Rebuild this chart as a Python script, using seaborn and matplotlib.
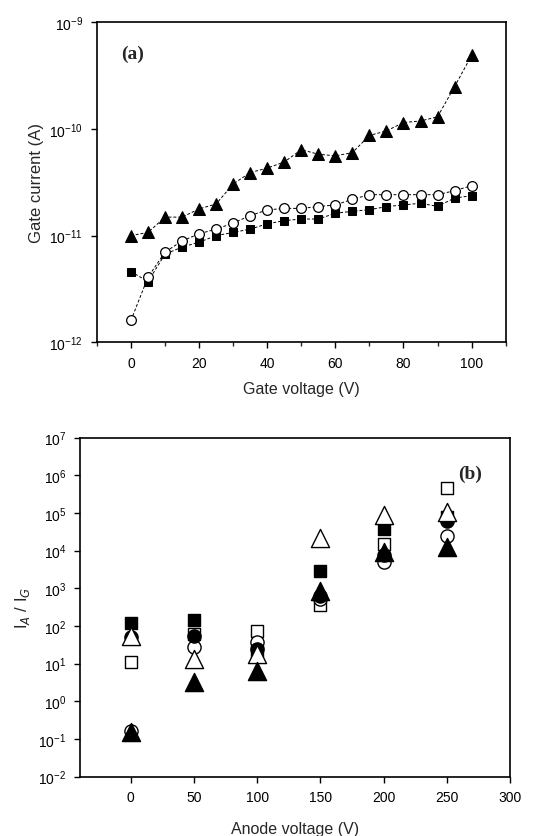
import numpy as np
import pandas as pd
import matplotlib
matplotlib.use("Agg")
import matplotlib.pyplot as plt
import seaborn as sns
from matplotlib.ticker import MultipleLocator, LogLocator, LogFormatterMathtext, NullLocator

# ---- panel (a): gate current vs gate voltage ----
gate_voltage = [0, 5, 10, 15, 20, 25, 30, 35, 40, 45, 50,
                55, 60, 65, 70, 75, 80, 85, 90, 95, 100]
current_tri = [1.0e-11, 1.07e-11, 1.49e-11, 1.49e-11, 1.78e-11, 1.98e-11, 3.05e-11,
               3.9e-11, 4.3e-11, 4.9e-11, 6.4e-11, 5.8e-11, 5.6e-11, 6.0e-11,
               8.7e-11, 9.6e-11, 1.15e-10, 1.19e-10, 1.3e-10, 2.5e-10, 4.9e-10]
current_circ = [1.6e-12, 4.07e-12, 7.0e-12, 8.9e-12, 1.04e-11, 1.15e-11, 1.31e-11,
                1.54e-11, 1.74e-11, 1.8e-11, 1.8e-11, 1.87e-11, 1.94e-11, 2.19e-11,
                2.42e-11, 2.42e-11, 2.42e-11, 2.42e-11, 2.42e-11, 2.64e-11, 2.94e-11]
current_sq = [4.6e-12, 3.7e-12, 6.7e-12, 7.8e-12, 8.66e-12, 1.0e-11, 1.07e-11,
              1.15e-11, 1.29e-11, 1.38e-11, 1.43e-11, 1.43e-11, 1.62e-11, 1.69e-11,
              1.75e-11, 1.87e-11, 1.94e-11, 2.01e-11, 1.88e-11, 2.25e-11, 2.37e-11]

# ---- panel (b): I_A / I_G vs anode voltage ----
anode_voltage = [0, 50, 100, 150, 200, 250]
ratio_sq_filled = [120, 145, 22, 2800, 37000, 80000]
ratio_circ_filled = [50, 55, 24, 630, 7500, 60000]
ratio_sq_open = [11, 60, 75, 350, 15000, 450000]
ratio_circ_open = [0.16, 27, 38, 520, 5000, 25000]
ratio_tri_open = [55, 13, 18, 22000, 87000, 107000]
ratio_tri_filled = [0.15, 3.2, 6.5, 870, 9000, 12500]

sns.set_style("ticks")
plt.rcParams['font.family'] = ['Liberation Sans', 'DejaVu Sans']
plt.rcParams['mathtext.fontset'] = 'custom'
plt.rcParams['mathtext.rm'] = 'Liberation Sans'

fig = plt.figure(figsize=(5.6, 8.37), dpi=100)
ax1 = fig.add_axes([0.173, 0.590, 0.730, 0.382])
ax2 = fig.add_axes([0.143, 0.071, 0.768, 0.405])

dfa = pd.DataFrame({"V": gate_voltage, "tri": current_tri,
                    "circ": current_circ, "sq": current_sq})
line_kw = dict(color="black", lw=0.7, linestyle=(0, (3, 2)), ax=ax1)
sns.lineplot(data=dfa, x="V", y="sq", marker="s", markersize=6,
             markerfacecolor="black", markeredgecolor="black", **line_kw)
sns.lineplot(data=dfa, x="V", y="circ", marker="o", markersize=7,
             markerfacecolor="white", markeredgecolor="black", markeredgewidth=0.9, **line_kw)
sns.lineplot(data=dfa, x="V", y="tri", marker="^", markersize=9,
             markerfacecolor="black", markeredgecolor="black", **line_kw)

ax1.set_yscale("log")
ax1.set_ylim(1e-12, 1e-9)
ax1.set_xlim(-10, 110)
ax1.xaxis.set_major_locator(MultipleLocator(20))
ax1.xaxis.set_minor_locator(MultipleLocator(10))
ax1.yaxis.set_major_locator(LogLocator(base=10, numticks=10))
ax1.yaxis.set_major_formatter(LogFormatterMathtext())
ax1.yaxis.set_minor_locator(NullLocator())
ax1.set_xlabel("Gate voltage (V)", fontsize=11.5, labelpad=8)
ax1.set_ylabel("Gate current (A)", fontsize=12, labelpad=4)
ax1.text(0.06, 0.93, "(a)", transform=ax1.transAxes, fontsize=14,
         fontweight="bold", family="Liberation Serif", va="top")

# panel b
dfb = pd.DataFrame({"V": anode_voltage,
                    "sq_f": ratio_sq_filled, "circ_f": ratio_circ_filled,
                    "sq_o": ratio_sq_open, "circ_o": ratio_circ_open,
                    "tri_o": ratio_tri_open, "tri_f": ratio_tri_filled})
series_b = [("sq_o", "s", "white", 80),
            ("circ_o", "o", "white", 90),
            ("circ_f", "o", "black", 90),
            ("sq_f", "s", "black", 80),
            ("tri_o", "^", "white", 170),
            ("tri_f", "^", "black", 170)]
for col, mk, fc, size in series_b:
    sns.scatterplot(data=dfb, x="V", y=col, marker=mk, s=size, ax=ax2,
                    facecolor=fc, edgecolor="black", linewidth=1.0, zorder=3)

ax2.set_yscale("log")
ax2.set_ylim(1e-2, 1e7)
ax2.set_xlim(-40, 300)
ax2.xaxis.set_major_locator(MultipleLocator(50))
ax2.yaxis.set_major_locator(LogLocator(base=10, numticks=12))
ax2.yaxis.set_major_formatter(LogFormatterMathtext())
ax2.yaxis.set_minor_locator(NullLocator())
ax2.set_xlabel("Anode voltage (V)", fontsize=11.5, labelpad=12)
ax2.set_ylabel(r"I$_A$ / I$_G$", fontsize=12, labelpad=4)
ax2.text(0.88, 0.92, "(b)", transform=ax2.transAxes, fontsize=14,
         fontweight="bold", family="Liberation Serif", va="top")

for ax in (ax1, ax2):
    for sp in ax.spines.values():
        sp.set_linewidth(1.2)
        sp.set_color("black")
    ax.tick_params(which="major", direction="out", length=4, width=1,
                   labelsize=10, colors="black", pad=6)
    ax.tick_params(which="minor", direction="out", length=3, width=1)

fig.savefig("out.png", dpi=100)
